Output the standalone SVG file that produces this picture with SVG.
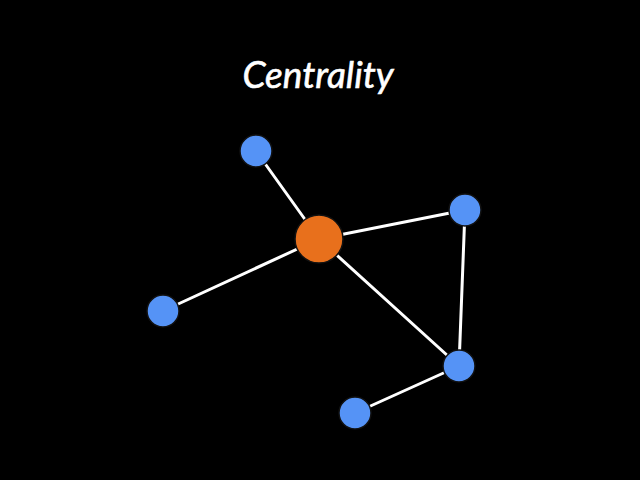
<svg xmlns="http://www.w3.org/2000/svg" width="640" height="480" viewBox="0 0 640 480">
<style>
.edge{stroke:#ffffff;stroke-width:3;stroke-linecap:round}
.node{fill:#5593f6;stroke:#111111;stroke-width:1.5}
.hub{fill:#e8701c;stroke:#111111;stroke-width:1.5}
.title{font-family:"Lato","Open Sans",sans-serif;font-style:italic;font-size:37px;fill:#ffffff;stroke:#ffffff;stroke-width:0.6}
</style>
<rect width="640" height="480" fill="#000000"/>
<text class="title" x="318" y="88" text-anchor="middle">Centrality</text>
<g id="connectors">
<line class="edge" x1="319" y1="239" x2="256" y2="151"/>
<line class="edge" x1="319" y1="239" x2="465" y2="210"/>
<line class="edge" x1="319" y1="239" x2="163" y2="311"/>
<line class="edge" x1="319" y1="239" x2="459" y2="366"/>
<line class="edge" x1="465" y1="210" x2="459" y2="366"/>
<line class="edge" x1="459" y1="366" x2="355" y2="413"/>
</g>
<g id="n1"><circle class="node" cx="256" cy="151" r="16"/></g>
<g id="n2"><circle class="node" cx="465" cy="210" r="16"/></g>
<g id="n3"><circle class="node" cx="163" cy="311" r="16"/></g>
<g id="n4"><circle class="node" cx="459" cy="366" r="16"/></g>
<g id="n5"><circle class="node" cx="355" cy="413" r="16"/></g>
<g id="hub"><circle class="hub" cx="319" cy="239" r="24"/></g>
</svg>
